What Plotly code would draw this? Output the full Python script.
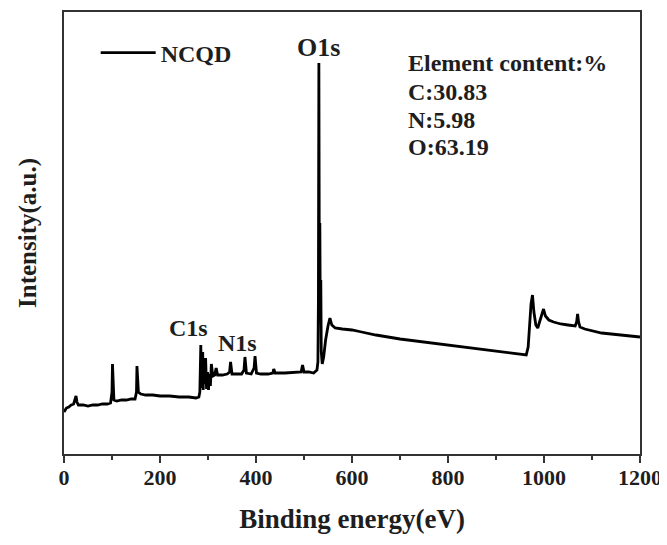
import plotly.graph_objects as go

# Binding energy (eV)
energy = [0, 5, 10, 15, 20, 23, 25, 27, 30, 40, 50, 60, 70, 80, 90, 97, 100, 101, 102, 104,
          110, 120, 130, 140, 148, 151, 152, 153, 155, 160, 170, 185, 200, 220, 240, 260, 275,
          281, 283, 285, 286, 287, 288, 289, 290, 291, 293, 295, 297, 299, 301, 303, 305, 307,
          310, 314, 317, 320, 330, 340, 345, 347, 350, 360, 370, 375, 377, 380, 390, 396, 398,
          401, 410, 425, 435, 437, 440, 460, 480, 494, 497, 500, 510, 520, 527, 529, 530, 531,
          532, 533, 534, 535, 536, 538, 541, 545, 550, 554, 558, 565, 580, 600, 620, 650, 700,
          750, 800, 850, 900, 940, 963, 967, 970, 973, 976, 979, 983, 987, 992, 996, 999, 1003,
          1010, 1020, 1035, 1050, 1065, 1068, 1070, 1072, 1075, 1085, 1100, 1120, 1140, 1160,
          1180, 1200]

# Intensity (a.u.)
intensity = [40, 44, 45, 47, 48, 53, 56, 50, 47, 47, 46, 47, 47, 48, 48, 49, 60, 88, 70, 52,
             51, 52, 52, 53, 53, 60, 86, 80, 60, 58, 57, 57, 56, 56, 55, 55, 54,
             55, 60, 107, 75, 98, 64, 100, 62, 92, 68, 94, 63, 80, 62, 78, 66, 88,
             76, 77, 84, 77, 77, 78, 80, 90, 78, 78, 78, 82, 95, 79, 78, 84, 96,
             79, 78, 78, 79, 83, 79, 79, 80, 80, 87, 80, 80, 79, 82, 90, 150, 389,
             160, 229, 130, 172, 100, 88, 95, 112, 126, 134, 127, 124, 123, 122, 120, 117, 113,
             110, 107, 104, 101, 99, 97, 105, 125, 148, 157, 140, 127, 124, 132, 140, 143, 136,
             132, 130, 128, 127, 126, 130, 138, 130, 125, 123, 121, 119, 118, 117,
             116, 115]

x_ticks = [0, 200, 400, 600, 800, 1000, 1200]
series_name = "NCQD"

peak_labels = ["O1s", "C1s", "N1s"]
peak_label_x = [531, 260, 362]
peak_label_y = [405, 124, 109]
peak_label_size = [26, 24, 24]

content_lines = ["Element content:%", "C:30.83", "N:5.98", "O:63.19"]
content_y = [389, 360, 332, 305]
content_x = 713

FONT = "Liberation Serif"
TXT = "#1e1e1e"

fig = go.Figure()
fig.add_trace(go.Scatter(
    x=energy, y=intensity, mode="lines", name=series_name,
    line=dict(color="#000000", width=2.8),
))

for t, x, y, s in zip(peak_labels, peak_label_x, peak_label_y, peak_label_size):
    fig.add_annotation(x=x, y=y, text=f"<b>{t}</b>", showarrow=False,
                       font=dict(family=FONT, size=s, color=TXT),
                       xanchor="center", yanchor="middle")

for t, y in zip(content_lines, content_y):
    fig.add_annotation(x=content_x, y=y, text=f"<b>{t}</b>", showarrow=False,
                       font=dict(family=FONT, size=24, color=TXT),
                       xanchor="left", yanchor="middle")

# the page body adds an 8px offset, so the figure is 8px smaller than the window
fig.update_layout(
    width=659, height=537,
    margin=dict(l=56, r=27, t=4, b=91),
    paper_bgcolor="white", plot_bgcolor="white",
    showlegend=True,
    legend=dict(x=0.055, y=0.907, xanchor="left", yanchor="middle",
                bgcolor="rgba(0,0,0,0)", itemwidth=55,
                font=dict(family=FONT, size=24, color=TXT, weight="bold")),
    font=dict(family=FONT, color=TXT),
)

fig.update_xaxes(
    range=[0, 1200], tickvals=x_ticks, ticktext=[str(v) for v in x_ticks],
    ticks="outside", ticklen=7, tickwidth=1.5, tickcolor="#333333",
    minor=dict(dtick=100, ticks="outside", ticklen=4, tickwidth=1.5, tickcolor="#333333"),
    showline=True, linecolor="#333333", linewidth=1.6, mirror=True,
    showgrid=False, zeroline=False, automargin=False,
    ticklabelstandoff=-4,
    tickfont=dict(family=FONT, size=22, color=TXT, weight="bold"),
    title=dict(text="<b>Binding energy(eV)</b>", standoff=20,
               font=dict(family=FONT, size=27, color=TXT)),
)

fig.update_yaxes(
    range=[-2, 440], showticklabels=False, ticks="",
    showline=True, linecolor="#333333", linewidth=1.6, mirror=True,
    showgrid=False, zeroline=False, automargin=False,
    title=dict(text="<b>Intensity(a.u.)</b>", standoff=18,
               font=dict(family=FONT, size=25, color=TXT)),
)

fig.write_html("out.html")
